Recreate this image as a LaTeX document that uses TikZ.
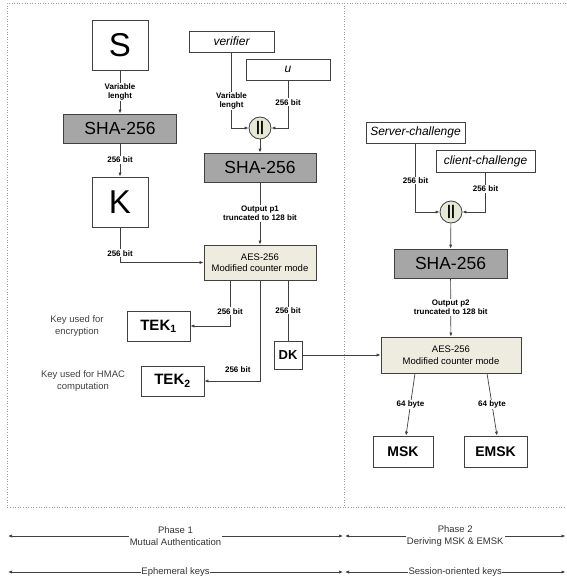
\documentclass[tikz,border=0pt]{standalone}
\usepackage{fontspec}
\setmainfont{Liberation Sans}
\usetikzlibrary{positioning, arrows.meta}
\definecolor{linegray}{HTML}{404040}
\definecolor{hashgray}{HTML}{A6A6A6}
\definecolor{aesfill}{HTML}{EEEBDF}
\definecolor{catfill}{HTML}{E4E8D4}
\definecolor{framegray}{HTML}{9A9A9A}

\begin{document}
\begin{tikzpicture}[x=1pt, y=-1pt,
  box/.style={draw=linegray, line width=0.8pt, fill=white, inner sep=0pt},
  hashbox/.style={box, fill=hashgray, minimum width=113pt, minimum height=29pt, font=\fontsize{17.5}{20}\selectfont},
  aesbox/.style={box, fill=aesfill, align=center, font=\fontsize{9.5}{11.5}\selectfont},
  inbox/.style={box, minimum height=21pt, font=\fontsize{12}{14}\selectfont\itshape},
  keybox/.style={box, minimum height=30pt, font=\fontsize{15}{17}\selectfont\bfseries},
  bigbox/.style={box, minimum width=56pt, minimum height=50pt, font=\fontsize{33}{36}\selectfont},
  cat/.style={circle, draw=linegray, fill=catfill, line width=0.8pt, minimum size=22pt, inner sep=0pt, font=\fontsize{14}{14}\selectfont},
  lbl/.style={fill=white, inner sep=1pt, align=center, font=\fontsize{8}{9}\selectfont\bfseries},
  note/.style={align=center, text=black!75, font=\fontsize{9.5}{11.5}\selectfont},
  wire/.style={draw=linegray, line width=0.7pt},
  link/.style={wire, -{Latex[length=4pt,width=3.2pt]}},
  span/.style={wire, {Latex[length=4pt,width=3.2pt]}-{Latex[length=4pt,width=3.2pt]}},
  phase/.style={fill=white, inner sep=1pt, align=center, text=black!80, font=\fontsize{9.5}{11.5}\selectfont},
  frame/.style={draw=framegray, dotted, line width=0.6pt}
]
\useasboundingbox (0,0) rectangle (566,580);

% phase frame
\draw[frame] (566,3) -- (7,3) -- (7,507) -- (566,507);
\draw[frame] (344,3) -- (344,507);

% phase 1: mutual authentication
\node[bigbox] (S) at (120,45) {S};
\node[hashbox] (H1) at (120,128.5) {SHA-256};
\node[bigbox] (K) at (120,202) {K};
\node[inbox, minimum width=85pt] (V) at (231.5,41.5) {verifier};
\node[inbox, minimum width=84pt] (U) at (288,69.5) {u};
\node[cat] (C1) at (260,128) {\textbf{||}};
\node[hashbox, minimum width=112pt] (H2) at (260,167.5) {SHA-256};
\node[aesbox, minimum width=112pt, minimum height=35pt] (A1) at (260,262.5) {AES-256\\Modified counter mode};
\node[keybox, minimum width=63pt] (T1) at (158.5,326) {TEK\textsubscript{1}};
\node[keybox, minimum width=63pt] (T2) at (172.5,381) {TEK\textsubscript{2}};
\node[keybox, minimum width=28pt, minimum height=28pt, font=\fontsize{13}{15}\selectfont\bfseries] (DK) at (288,355) {DK};
\node[note] (N1) at (77,326) {Key used for\\encryption};
\node[note] (N2) at (83,381) {Key used for HMAC\\computation};

% phase 2: deriving MSK and EMSK
\node[inbox, minimum width=99pt] (SC) at (415.5,132.5) {Server-challenge};
\node[inbox, minimum width=99pt, minimum height=22pt] (CC) at (485.5,161) {client-challenge};
\node[cat] (C2) at (451,212) {\textbf{||}};
\node[hashbox] (H3) at (450.5,263.5) {SHA-256};
\node[aesbox, minimum width=140pt, minimum height=36pt] (A2) at (451,355) {AES-256\\Modified counter mode};
\node[keybox, minimum width=60pt, minimum height=31pt, font=\fontsize{14}{16}\selectfont\bfseries] (MSK) at (403,451.5) {MSK};
\node[keybox, minimum width=63pt, minimum height=31pt, font=\fontsize{14}{16}\selectfont\bfseries] (EMSK) at (495.5,451.5) {EMSK};

% flows, phase 1
\draw[link] (S) -- node[lbl]{Variable\\lenght} (H1);
\draw[link] (H1) -- node[lbl]{256 bit} (K);
\draw[link] (V.south) |- node[lbl, pos=0.32]{Variable\\lenght} (C1.west);
\draw[link] (U.south) |- node[lbl, pos=0.23]{256 bit} (C1.east);
\draw[link] (C1) -- (H2);
\draw[link] (H2) -- node[lbl]{Output p1\\truncated to 128 bit} (A1);
\draw[link] (K.south) |- node[lbl, pos=0.37]{256 bit} (A1.west);
\draw[link] ([xshift=-30pt]A1.south) |- node[lbl, pos=0.34]{256 bit} (T1.east);
\draw[link] (A1.south) |- node[lbl, above, pos=0.7, yshift=7pt]{256 bit} (T2.east);
\draw[wire] ([xshift=28pt]A1.south) -- node[lbl]{256 bit} (DK.north);
\draw[link] (DK) -- (A2);

% flows, phase 2
\draw[link] (SC.south) |- node[lbl, pos=0.27]{256 bit} (C2.west);
\draw[link] (CC.south) |- node[lbl, pos=0.21]{256 bit} (C2.east);
\draw[link] (C2) -- (H3);
\draw[link] (H3) -- node[lbl]{Output p2\\truncated to 128 bit} (A2);
\draw[link] ([xshift=-36pt]A2.south) -- node[lbl]{64 byte} ([xshift=3pt]MSK.north);
\draw[link] ([xshift=36pt]A2.south) -- node[lbl]{64 byte} ([xshift=1.5pt]EMSK.north);

% time line
\coordinate (P1a) at (8,536);
\coordinate (P1b) at (343,536);
\coordinate (P2a) at (345,536);
\coordinate (P2b) at (565.5,536);
\coordinate (K1a) at (8,572);
\coordinate (K1b) at (343,572);
\coordinate (K2a) at (345,572);
\coordinate (K2b) at (565.5,572);
\draw[span] (P1a) -- node[phase]{Phase 1\\Mutual Authentication} (P1b);
\draw[span] (P2a) -- node[phase]{Phase 2\\Deriving MSK \& EMSK} (P2b);
\draw[span] (K1a) -- node[phase, inner sep=0.3pt]{Ephemeral keys} (K1b);
\draw[span] (K2a) -- node[phase, inner sep=0.3pt]{Session-oriented keys} (K2b);
\end{tikzpicture}
\end{document}
